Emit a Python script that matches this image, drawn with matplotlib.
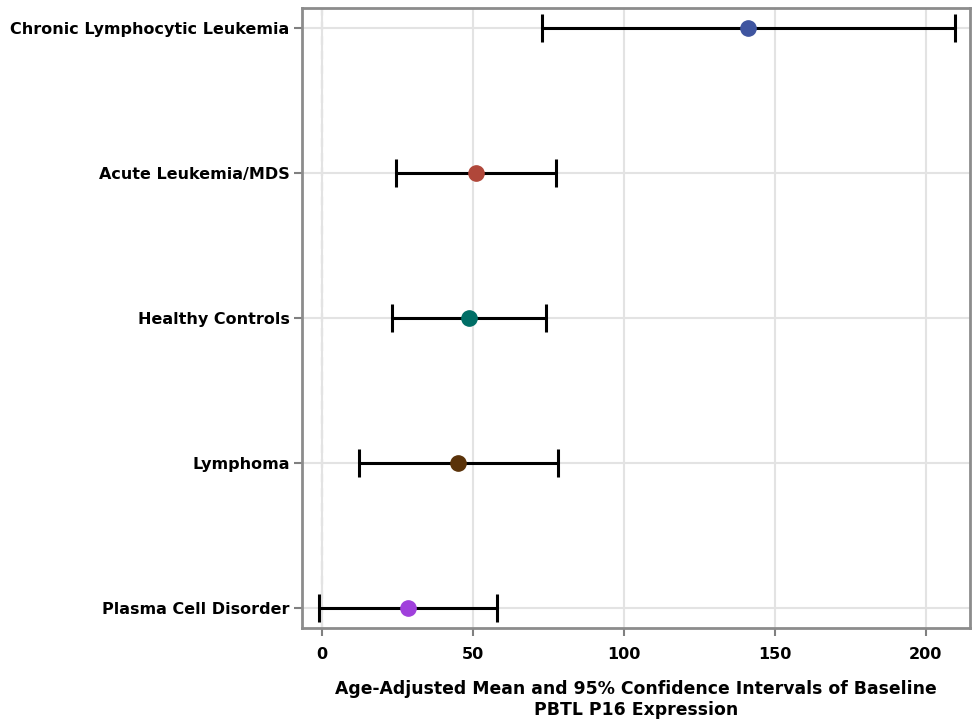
import matplotlib
matplotlib.use("Agg")
import matplotlib.pyplot as plt

# groups from top to bottom
groups = ["Chronic Lymphocytic Leukemia", "Acute Leukemia/MDS", "Healthy Controls",
          "Lymphoma", "Plasma Cell Disorder"]
means = [141.0, 51.0, 48.7, 45.0, 28.5]
lower = [72.8, 24.5, 23.2, 12.3, -1.0]
upper = [209.6, 77.5, 74.2, 78.1, 58.0]
colors = ["#3F55A0", "#B0473A", "#006E66", "#5A3209", "#A040DC"]
xticks = [0, 50, 100, 150, 200]

plt.rcParams['font.family'] = ['DejaVu Sans']
fig = plt.figure(figsize=(9.73, 7.22), dpi=100)
ax = fig.add_axes([302 / 973, 1 - 628 / 722, 668 / 973, 620 / 722])

ypos = list(range(len(groups)))[::-1]

ax.grid(True, color="#e3e3e3", linewidth=1.5, zorder=0)
ax.axvline(0, color="#8a8a8a", linestyle=(0, (4, 3)), linewidth=1.5, zorder=1)

for y, m, lo, hi, c in zip(ypos, means, lower, upper, colors):
    ax.errorbar(m, y, xerr=[[m - lo], [hi - m]], fmt="none", ecolor="black",
                elinewidth=2.2, capsize=10, capthick=2.2, zorder=2)
    ax.plot(m, y, "o", color=c, markersize=11, zorder=3)

ax.set_xlim(-6.6, 214.6)
ax.set_ylim(-0.14, 4.14)
ax.set_yticks(ypos)
ax.set_yticklabels(groups, fontsize=11.5, fontweight="bold")
ax.set_xticks(xticks)
ax.set_xticklabels([str(t) for t in xticks], fontsize=11.5, fontweight="bold")
ax.tick_params(axis="both", color="#808080", width=1.5, length=6)
ax.tick_params(axis="y", pad=3)
ax.tick_params(axis="x", pad=8)
for s in ax.spines.values():
    s.set_color("#8c8c8c")
    s.set_linewidth(2)

ax.set_xlabel("Age-Adjusted Mean and 95% Confidence Intervals of Baseline\nPBTL P16 Expression",
              fontsize=12.4, fontweight="bold", labelpad=13, linespacing=1.15)

fig.savefig("out.png", dpi=100)
